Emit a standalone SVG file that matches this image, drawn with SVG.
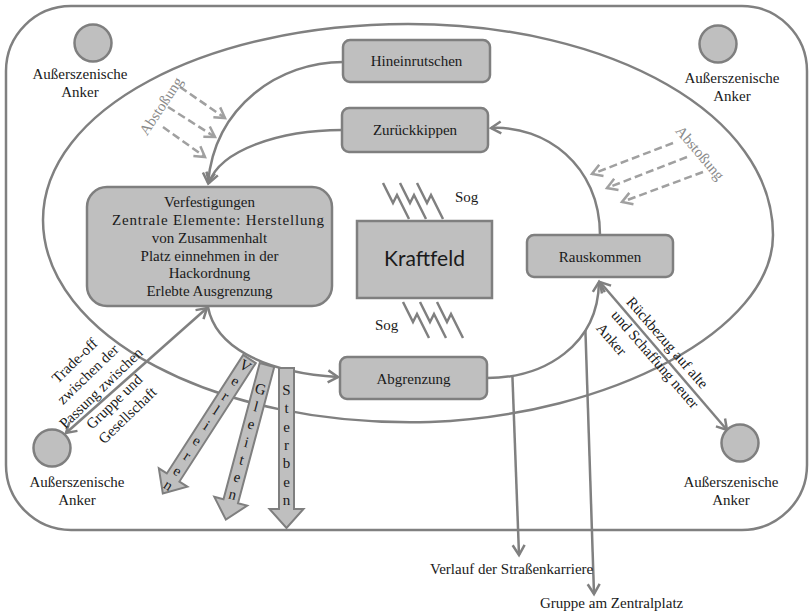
<svg xmlns="http://www.w3.org/2000/svg" width="810" height="614" viewBox="0 0 810 614" font-family="'Liberation Serif', 'Times New Roman', serif">
<style>
.ln{fill:none;stroke:#808080;stroke-width:2.5}
.node{fill:#bfbfbf;stroke:#7f7f7f;stroke-width:2.5}
.t{font-family:'Liberation Serif','Times New Roman',Tinos,serif;font-size:15px;fill:#1a1a1a}
.c{text-anchor:middle}
.g{fill:#8a8a8a}
.dash{fill:none;stroke:#a0a0a0;stroke-width:2.5;stroke-dasharray:8 4}
.blk{fill:#bfbfbf;stroke:#7f7f7f;stroke-width:2}
.zz{fill:none;stroke:#808080;stroke-width:2.5;stroke-linejoin:miter}
</style>
<defs>
<marker id="ah" markerUnits="userSpaceOnUse" markerWidth="16" markerHeight="16" viewBox="-13 -8 16 16" refX="0" refY="0" orient="auto-start-reverse">
<path d="M-10,-6 L0,0 L-10,6" fill="none" stroke="#808080" stroke-width="2.5"/>
</marker>
<marker id="ahd" markerUnits="userSpaceOnUse" markerWidth="16" markerHeight="16" viewBox="-13 -8 16 16" refX="0" refY="0" orient="auto">
<path d="M-10,-6 L0,0 L-10,6" fill="none" stroke="#a0a0a0" stroke-width="2.5"/>
</marker>
<path id="zz" d="M0,0 L10,20 L14,12 L26,36"/>
<path id="blkshape" d="M-7.5,0 H7.5 V141 H17 L0,160 L-17,141 H-7.5 Z"/>
</defs>

<g id="frame">
<rect x="6" y="6" width="801" height="524" rx="65" fill="none" stroke="#808080" stroke-width="2.5"/>
<path class="ln" d="M43,220 C43,110 205,24 408,24 C612,24 773,115 773,235 C773,330 610,415 430,422 C215,428 43,335 43,220 Z"/>
</g>

<g id="connectors">
<path class="ln" d="M343,62 C280,62 215,105 208,183" marker-end="url(#ah)"/>
<path class="ln" d="M342,130 C280,130 220,150 209,183" marker-end="url(#ah)"/>
<path class="ln" d="M600,235 C600,165 545,125 491,128" marker-end="url(#ah)"/>
<path class="ln" d="M208,307 C215,345 260,372 338,377" marker-end="url(#ah)"/>
<path class="ln" d="M487,378 C545,378 598,345 599,282" marker-end="url(#ah)"/>
<path class="ln" d="M512.4,375.8 L519,555" marker-end="url(#ah)"/>
<path class="ln" d="M585.4,330 L594,594" marker-end="url(#ah)"/>
<path class="ln" d="M207,308 L66,433" marker-start="url(#ah)" marker-end="url(#ah)"/>
<path class="ln" d="M600,282 L727,430" marker-start="url(#ah)" marker-end="url(#ah)"/>
<path class="dash" d="M180,87 L225,118" marker-end="url(#ahd)"/>
<path class="dash" d="M168,107 L215,137" marker-end="url(#ahd)"/>
<path class="dash" d="M163,127 L205,157" marker-end="url(#ahd)"/>
<path class="dash" d="M673,143 L592,174" marker-end="url(#ahd)"/>
<path class="dash" d="M687,157 L607,188" marker-end="url(#ahd)"/>
<path class="dash" d="M703,172 L622,202" marker-end="url(#ahd)"/>
</g>

<g id="sog-top">
<use href="#zz" class="zz" x="383" y="183"/>
<use href="#zz" class="zz" x="400" y="183"/>
<use href="#zz" class="zz" x="417" y="183"/>
<text class="t" x="455" y="202">Sog</text>
</g>
<g id="sog-bottom">
<use href="#zz" class="zz" x="403" y="302"/>
<use href="#zz" class="zz" x="420" y="302"/>
<use href="#zz" class="zz" x="437" y="302"/>
<text class="t" x="375" y="330">Sog</text>
</g>

<g id="hineinrutschen">
<rect class="node" x="343" y="40" width="147" height="42" rx="7"/>
<text class="t c" x="416.5" y="66">Hineinrutschen</text>
</g>
<g id="zurueckkippen">
<rect class="node" x="342" y="108" width="146" height="44" rx="7"/>
<text class="t c" x="415" y="135">Zurückkippen</text>
</g>
<g id="verfestigungen">
<rect class="node" x="87" y="187" width="245" height="119" rx="20"/>
<text class="t c" x="209.5" y="207">Verfestigungen</text>
<text class="t" x="112" y="225" textLength="212" lengthAdjust="spacing">Zentrale Elemente: Herstellung</text>
<text class="t c" x="209.5" y="243">von Zusammenhalt</text>
<text class="t c" x="209.5" y="261">Platz einnehmen in der</text>
<text class="t c" x="209.5" y="278">Hackordnung</text>
<text class="t c" x="209.5" y="296">Erlebte Ausgrenzung</text>
</g>
<g id="kraftfeld">
<rect x="357" y="221" width="135" height="77" fill="#bfbfbf" stroke="#7f7f7f" stroke-width="2.5"/>
<text x="424.5" y="266" text-anchor="middle" style="font-family:Lato,'Liberation Sans',sans-serif;font-size:21px;fill:#1a1a1a">Kraftfeld</text>
</g>
<g id="rauskommen">
<rect class="node" x="527" y="235" width="146" height="42" rx="7"/>
<text class="t c" x="600" y="262">Rauskommen</text>
</g>
<g id="abgrenzung">
<rect class="node" x="340" y="357" width="147" height="42" rx="7"/>
<text class="t c" x="413.5" y="384">Abgrenzung</text>
</g>

<g id="anker-tl">
<circle class="node" cx="93" cy="43" r="18.5"/>
<text class="t c" x="80" y="79">Außerszenische</text>
<text class="t c" x="80" y="97">Anker</text>
</g>
<g id="anker-tr">
<circle class="node" cx="718" cy="44" r="18.5"/>
<text class="t c" x="732" y="83">Außerszenische</text>
<text class="t c" x="732" y="101">Anker</text>
</g>
<g id="anker-bl">
<circle class="node" cx="52" cy="448" r="18.5"/>
<text class="t c" x="77" y="487">Außerszenische</text>
<text class="t c" x="77" y="505">Anker</text>
</g>
<g id="anker-br">
<circle class="node" cx="740" cy="443" r="18.5"/>
<text class="t c" x="731" y="487">Außerszenische</text>
<text class="t c" x="731" y="505">Anker</text>
</g>

<g id="verlieren" transform="translate(249.5,359) rotate(32.8)">
<use href="#blkshape" class="blk"/>
<text class="t c" x="0" y="13">V</text>
<text class="t c" x="0" y="31">e</text>
<text class="t c" x="0" y="49">r</text>
<text class="t c" x="0" y="66">l</text>
<text class="t c" x="0" y="84">i</text>
<text class="t c" x="0" y="102">e</text>
<text class="t c" x="0" y="120">r</text>
<text class="t c" x="0" y="138">e</text>
<text class="t c" x="0" y="155">n</text>
</g>
<g id="gleiten" transform="translate(267,365) rotate(14.9)">
<use href="#blkshape" class="blk"/>
<text class="t c" x="0" y="30">G</text>
<text class="t c" x="0" y="48">l</text>
<text class="t c" x="0" y="66">e</text>
<text class="t c" x="0" y="85">i</text>
<text class="t c" x="0" y="103">t</text>
<text class="t c" x="0" y="121">e</text>
<text class="t c" x="0" y="139">n</text>
</g>
<g id="sterben" transform="translate(286.5,368)">
<use href="#blkshape" class="blk"/>
<text class="t c" x="0" y="27">S</text>
<text class="t c" x="0" y="45">t</text>
<text class="t c" x="0" y="64">e</text>
<text class="t c" x="0" y="82">r</text>
<text class="t c" x="0" y="100">b</text>
<text class="t c" x="0" y="119">e</text>
<text class="t c" x="0" y="137">n</text>
</g>

<g id="labels">
<text class="t c g" transform="translate(161,106) rotate(-56.6)" x="0" y="5">Abstoßung</text>
<text class="t c g" transform="translate(700,153) rotate(49.6)" x="0" y="5">Abstoßung</text>
<g transform="translate(101,388) rotate(-44)">
<text class="t c" x="0" y="-33">Trade-off</text>
<text class="t c" x="0" y="-14">zwischen der</text>
<text class="t c" x="0" y="5">Passung zwischen</text>
<text class="t c" x="0" y="24">Gruppe und</text>
<text class="t c" x="0" y="43">Gesellschaft</text>
</g>
<g transform="translate(632,302) rotate(49)">
<text class="t" x="-4" y="5">Rückbezug auf alte</text>
<text class="t" x="-4" y="25">und Schaffung neuer</text>
<text class="t" x="-4" y="45">Anker</text>
</g>
<text class="t" x="430" y="574">Verlauf der Straßenkarriere</text>
<text class="t" x="540" y="608">Gruppe am Zentralplatz</text>
</g>
</svg>
